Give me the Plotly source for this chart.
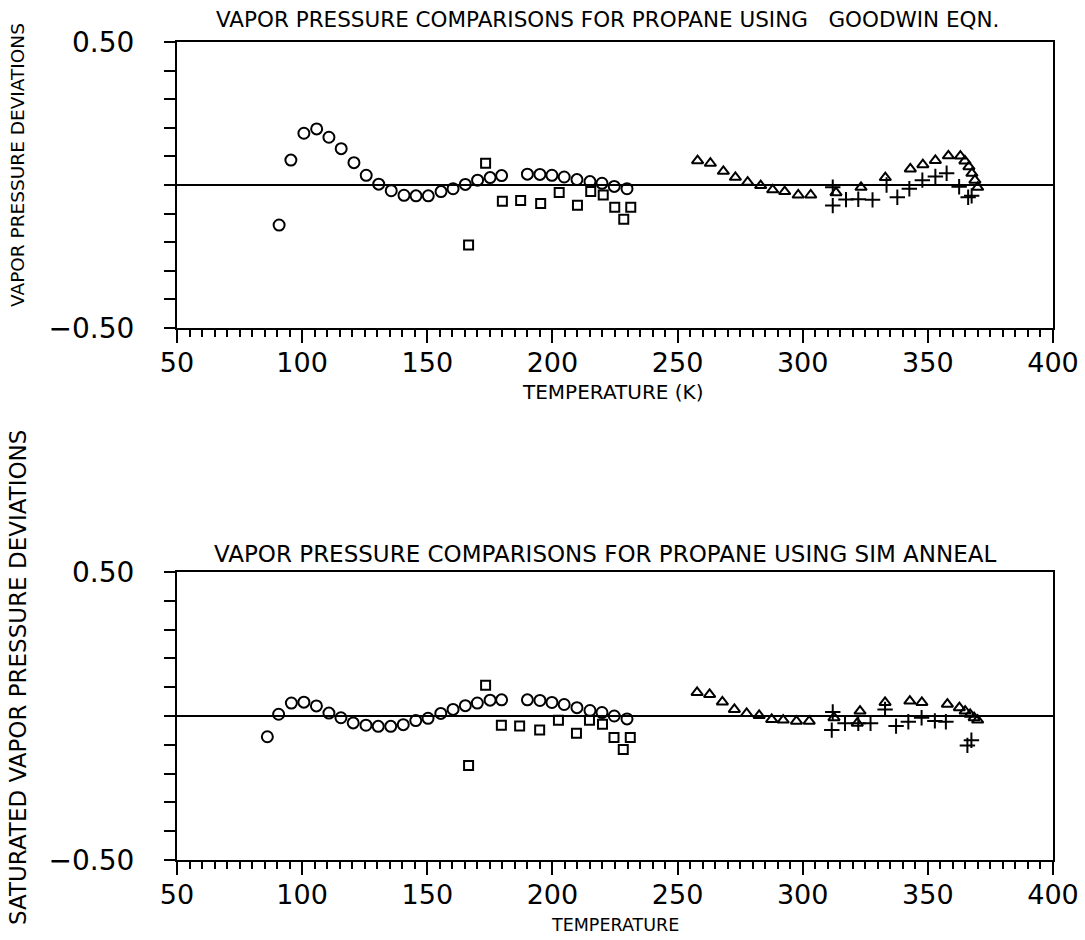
import plotly.graph_objects as go

# ---------------- data: top panel (Goodwin eqn.) ----------------
top_circle_x = [85.5, 90.8, 95.5, 100.7, 105.8, 110.7, 115.6, 120.7, 125.6, 130.6, 135.6, 140.7,
                145.5, 150.4, 155.5, 160.3, 165.2, 170.1, 175.1, 179.7, 190.0, 195.0, 199.8,
                204.7, 209.8, 215.0, 219.8, 224.7, 229.8]
top_circle_y = [-0.51, -0.140, 0.087, 0.181, 0.196, 0.167, 0.127, 0.078, 0.034, 0.003, -0.020, -0.036,
                -0.038, -0.038, -0.023, -0.013, 0.002, 0.017, 0.026, 0.033, 0.038, 0.037, 0.034,
                0.028, 0.019, 0.012, 0.006, -0.005, -0.013]

top_square_x = [166.5, 173.3, 180.0, 187.3, 195.3, 202.7, 210.0, 215.3, 220.3, 224.9, 228.5, 231.3]
top_square_y = [-0.210, 0.076, -0.057, -0.054, -0.065, -0.026, -0.071, -0.023, -0.035, -0.078, -0.120, -0.078]

top_tri_x = [258.0, 263.1, 268.3, 273.1, 278.0, 283.2, 288.0, 292.8, 298.2, 303.2, 313.3, 323.3,
             333.0, 343.0, 348.0, 353.0, 358.2, 363.0, 364.8, 366.4, 367.6, 368.8, 369.9]
top_tri_y = [0.085, 0.076, 0.048, 0.027, 0.010, -0.002, -0.017, -0.023, -0.035, -0.035, -0.027, -0.008,
             0.026, 0.056, 0.071, 0.086, 0.102, 0.101, 0.084, 0.064, 0.041, 0.017, -0.008]

top_plus_x = [312.0, 312.0, 317.3, 322.2, 327.9, 333.5, 337.8, 342.6, 347.8, 353.0, 357.5, 362.5, 366.1, 367.5]
top_plus_y = [-0.072, -0.008, -0.051, -0.050, -0.052, 0.000, -0.043, -0.013, 0.017, 0.030, 0.041, -0.006, -0.043, -0.038]

# ---------------- data: bottom panel (Sim anneal) ----------------
bot_circle_x = [86.1, 90.6, 95.7, 100.7, 105.7, 110.7, 115.5, 120.4, 125.5, 130.4, 135.4, 140.4,
                145.4, 150.3, 155.4, 160.3, 165.2, 170.0, 175.1, 179.7, 190.0, 195.0, 199.8,
                204.7, 209.8, 215.0, 219.8, 224.7, 229.8]
bot_circle_y = [-0.072, 0.006, 0.045, 0.048, 0.035, 0.010, -0.006, -0.024, -0.032, -0.036, -0.036, -0.030,
                -0.016, -0.008, 0.009, 0.023, 0.036, 0.045, 0.055, 0.056, 0.056, 0.054, 0.047,
                0.040, 0.029, 0.019, 0.012, 0.000, -0.010]

bot_square_x = [166.5, 173.3, 179.6, 186.9, 194.9, 202.4, 209.6, 214.8, 220.0, 224.6, 228.3, 231.1]
bot_square_y = [-0.172, 0.107, -0.032, -0.035, -0.049, -0.015, -0.060, -0.015, -0.029, -0.075, -0.116, -0.075]

bot_tri_x = [257.8, 262.8, 267.9, 272.7, 277.6, 282.6, 287.6, 292.2, 297.5, 302.6, 312.5, 321.8,
             322.9, 332.9, 342.8, 347.6, 357.8, 362.6, 364.9, 366.9, 368.5, 369.9]
bot_tri_y = [0.082, 0.075, 0.049, 0.023, 0.009, 0.002, -0.012, -0.014, -0.018, -0.018, -0.006, -0.025,
             0.017, 0.047, 0.052, 0.047, 0.041, 0.029, 0.017, 0.006, -0.006, -0.014]

bot_plus_x = [311.6, 312.0, 316.9, 322.2, 327.1, 332.9, 337.3, 342.2, 347.5, 352.8, 357.2, 365.8, 367.4]
bot_plus_y = [-0.049, 0.014, -0.025, -0.025, -0.025, 0.023, -0.035, -0.020, -0.006, -0.017, -0.020, -0.102, -0.084]

x_ticks = [50, 100, 150, 200, 250, 300, 350, 400]
y_ticks = [-0.5, -0.4, -0.3, -0.2, -0.1, 0.0, 0.1, 0.2, 0.3, 0.4, 0.5]
y_ticktext = ["\u22120.50", "", "", "", "", "", "", "", "", "", "0.50"]

titles = ["VAPOR PRESSURE COMPARISONS FOR PROPANE USING \u00a0 GOODWIN EQN.",
          "VAPOR PRESSURE COMPARISONS FOR PROPANE USING SIM ANNEAL"]
y_titles = ["VAPOR PRESSURE DEVIATIONS", "SATURATED VAPOR PRESSURE DEVIATIONS"]
x_titles = ["TEMPERATURE (K)", "TEMPERATURE"]

FONT = "DejaVu Sans, Verdana, sans-serif"
W, H = 1085, 940

fig = go.Figure()

def add_series(xs, ys, symbol, size, xa, ya):
    fig.add_trace(go.Scatter(
        x=xs, y=ys, mode="markers", xaxis=xa, yaxis=ya, cliponaxis=False,
        marker=dict(symbol=symbol, size=size, color="black",
                    line=dict(color="black", width=2)),
        showlegend=False, hoverinfo="x+y"))

add_series(top_circle_x, top_circle_y, "circle-open", 11, "x", "y")
add_series(top_square_x, top_square_y, "square-open", 9, "x", "y")
add_series(top_tri_x, top_tri_y, "triangle-up-open", 10, "x", "y")
add_series(top_plus_x, top_plus_y, "cross-thin-open", 11, "x", "y")

add_series(bot_circle_x, bot_circle_y, "circle-open", 11, "x2", "y2")
add_series(bot_square_x, bot_square_y, "square-open", 9, "x2", "y2")
add_series(bot_tri_x, bot_tri_y, "triangle-up-open", 10, "x2", "y2")
add_series(bot_plus_x, bot_plus_y, "cross-thin-open", 11, "x2", "y2")

xdom = [177 / W, 1053 / W]
ydom_top = [(H - 328) / H, (H - 42) / H]
ydom_bot = [(H - 860) / H, (H - 572) / H]

TICKFONT = dict(family=FONT, size=27, color="black")
YTICKFONT = dict(family=FONT, size=28, color="black")

def xaxis(anchor):
    return dict(domain=xdom, range=[50, 400], anchor=anchor,
                showline=True, linecolor="black", linewidth=2, mirror=True,
                showgrid=False, zeroline=False, automargin=False,
                tickmode="array", tickvals=x_ticks, ticks="outside", ticklen=13,
                tickwidth=2, tickcolor="black", ticklabelstandoff=-3,
                tickfont=TICKFONT,
                minor=dict(dtick=5, tick0=50, ticks="outside", ticklen=7,
                           tickwidth=2, tickcolor="black", showgrid=False))

def yaxis(anchor, dom):
    return dict(domain=dom, range=[-0.5, 0.5], anchor=anchor,
                showline=True, linecolor="black", linewidth=2, mirror=True,
                showgrid=False, zeroline=True, zerolinecolor="black", zerolinewidth=2,
                automargin=False,
                tickmode="array", tickvals=y_ticks, ticktext=y_ticktext,
                ticks="outside", ticklen=11, tickwidth=2, tickcolor="black",
                ticklabelstandoff=24, tickfont=YTICKFONT)

fig.update_layout(
    width=W, height=H,
    margin=dict(l=0, r=0, t=0, b=0, autoexpand=False),
    paper_bgcolor="white", plot_bgcolor="white",
    xaxis=xaxis("y"), yaxis=yaxis("x", ydom_top),
    xaxis2=xaxis("y2"), yaxis2=yaxis("x2", ydom_bot),
)

def text(t, x, y, size, angle=0):
    return dict(text=t, x=x / W, y=1 - y / H, xref="paper", yref="paper",
                showarrow=False, textangle=angle,
                font=dict(family=FONT, size=size, color="black"),
                xanchor="center", yanchor="middle")

ann = [
    text(titles[0], 607, 19, 21.5),
    text(titles[1], 605, 554, 23),
    text(x_titles[0], 613, 392, 20),
    text(x_titles[1], 615, 925, 17.5),
    text(y_titles[0], 18, 165, 18.5, -90),
    text(y_titles[1], 18, 678, 23, -90),
]
fig.update_layout(annotations=ann)

fig.write_html("out.html")
